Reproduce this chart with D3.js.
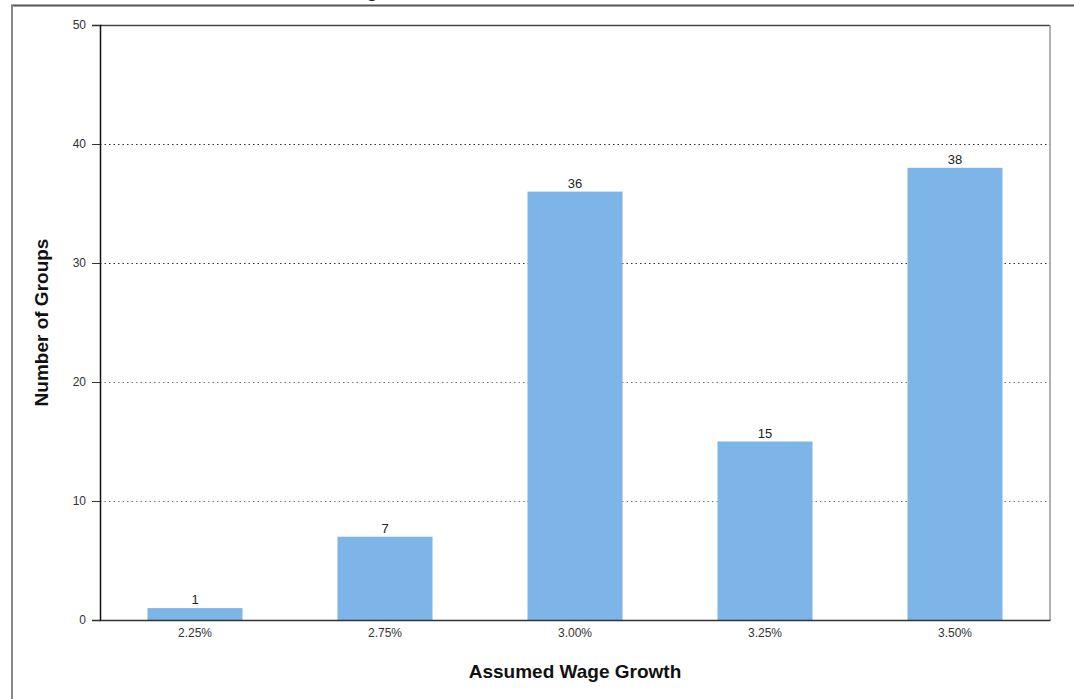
<!DOCTYPE html>
<html><head><meta charset="utf-8">
<script src="https://cdn.jsdelivr.net/npm/d3@7"></script>
<style>body{margin:0;background:#fff;} svg{display:block;font-family:Arial,"Liberation Sans",sans-serif;}</style>
</head><body>
<svg id="c" width="1074" height="699"></svg>
<script>
const categories = ["2.25%", "2.75%", "3.00%", "3.25%", "3.50%"];
const values = [1, 7, 36, 15, 38];
const yTicks = [0, 10, 20, 30, 40, 50];
const xTitle = "Assumed Wage Growth";
const yTitle = "Number of Groups";

const svg = d3.select("#c");
const m = {left: 100, right: 1050, top: 25, bottom: 620};

// outer frame
svg.append("line").attr("x1", 11).attr("x2", 1074).attr("y1", 5.5).attr("y2", 5.5).attr("stroke", "#555").attr("stroke-width", 2);
svg.append("line").attr("x1", 12).attr("x2", 12).attr("y1", 5).attr("y2", 699).attr("stroke", "#888").attr("stroke-width", 2);
// cut-off title descender
svg.append("text").attr("x", 366).attr("y", -3).attr("font-size", 20).attr("font-weight", "bold").attr("fill", "#222").text("g");

const x = d3.scaleBand().domain(categories).range([m.left, m.right]).paddingInner(0.5).paddingOuter(0.25);
const y = d3.scaleLinear().domain([0, 50]).range([m.bottom, m.top]);

// gridlines
svg.append("g").selectAll("line").data(yTicks.filter(d => d > 0 && d < 50)).join("line")
  .attr("x1", m.left).attr("x2", m.right).attr("y1", d => Math.round(y(d)) + 0.5).attr("y2", d => Math.round(y(d)) + 0.5)
  .attr("stroke", d => d >= 30 ? "#333" : "#777").attr("stroke-dasharray", "1.5,3");

// bars
svg.append("g").selectAll("rect").data(values).join("rect")
  .attr("x", (d, i) => x(categories[i])).attr("width", x.bandwidth())
  .attr("y", d => y(d)).attr("height", d => y(0) - y(d)).attr("fill", "#7db5e9");

// value labels
svg.append("g").selectAll("text").data(values).join("text")
  .attr("x", (d, i) => x(categories[i]) + x.bandwidth() / 2).attr("y", d => y(d) - 4)
  .attr("text-anchor", "middle").attr("font-size", 13).attr("fill", "#222").text(d => d);

// frame lines
svg.append("line").attr("x1", m.left).attr("x2", m.right).attr("y1", m.top + 0.5).attr("y2", m.top + 0.5).attr("stroke", "#444").attr("stroke-width", 1.5);
svg.append("line").attr("x1", m.right).attr("x2", m.right).attr("y1", m.top).attr("y2", m.bottom).attr("stroke", "#999").attr("stroke-width", 1.5);

// y axis
const ya = svg.append("g").attr("transform", `translate(${m.left},0)`)
  .call(d3.axisLeft(y).tickValues(yTicks).tickSize(8).tickPadding(6));
ya.select(".domain").attr("stroke", "#111").attr("stroke-width", 1.5);
ya.selectAll(".tick line").attr("stroke", "#333");
ya.selectAll("text").attr("font-size", 12).attr("fill", "#333").attr("font-family", "Arial, 'Liberation Sans', sans-serif");

// x axis
const xa = svg.append("g").attr("transform", `translate(0,${m.bottom})`)
  .call(d3.axisBottom(x).tickSize(0).tickPadding(8));
xa.select(".domain").attr("stroke", "#333").attr("stroke-width", 1.5);
xa.selectAll("text").attr("font-size", 12).attr("fill", "#333").attr("font-family", "Arial, 'Liberation Sans', sans-serif");

// titles
svg.append("text").attr("x", (m.left + m.right) / 2).attr("y", 678).attr("text-anchor", "middle")
  .attr("font-size", 19).attr("font-weight", "bold").attr("fill", "#111").text(xTitle);
svg.append("text").attr("transform", `translate(48,${(m.top + m.bottom) / 2}) rotate(-90)`).attr("text-anchor", "middle")
  .attr("font-size", 19).attr("font-weight", "bold").attr("fill", "#111").text(yTitle);
</script>
</body></html>
